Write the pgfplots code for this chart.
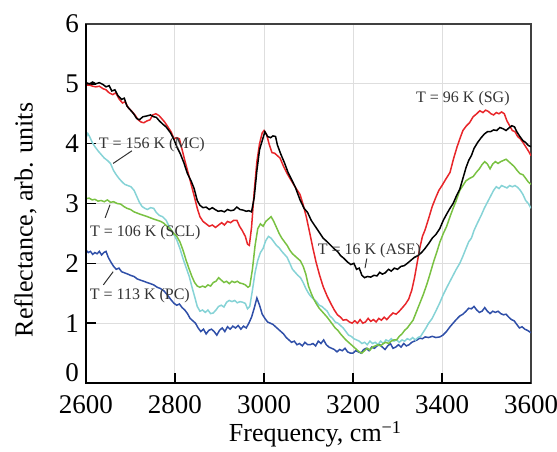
\documentclass[border=0pt]{standalone}
\usepackage{fontspec}
\setmainfont{Liberation Serif}
\usepackage{pgfplots}
\pgfplotsset{compat=1.18}
\definecolor{cRed}{HTML}{E8262A}
\definecolor{cCyan}{HTML}{86D3D6}
\definecolor{cGreen}{HTML}{79C142}
\definecolor{cBlue}{HTML}{2F4FA8}

\begin{document}
\begin{tikzpicture}
\begin{axis}[scale only axis,width=222.5pt,height=179.5pt,
xmin=2600,xmax=3600,ymin=0,ymax=6,
xtick={2600,2800,...,3600},ytick={0,1,...,6},
yticklabels={\raisebox{10pt}{0},1,2,3,4,5,6},
/pgf/number format/assume math mode=true,
/pgf/number format/1000 sep={},
tick label style={font=\fontsize{13.5}{13.5}\selectfont},
xticklabel style={yshift=-2.5pt},
label style={font=\fontsize{13}{14}\selectfont},
xlabel={Frequency, cm\textsuperscript{−1}},
ylabel={Reflectance, arb. units},
xlabel style={xshift=3.5pt},
xlabel shift=-3pt,
ylabel style={at={(ticklabel cs:0.454)}},
ylabel shift=7.5pt,
grid=major,major grid style={black!13,line width=0.5pt},
tick align=inside,xtick pos=bottom,ytick pos=left,major tick length=5pt,
tick style={black,line width=0.8pt},
axis line style={black!75,line width=0.8pt},
clip mode=individual,
every axis plot/.append style={line width=0.75pt}]

\addplot[cBlue] coordinates {(2600,2.22) (2605,2.18) (2610,2.20) (2615,2.15) (2620,2.18) (2625,2.16) (2630,2.20) (2635,2.14) (2640,2.18) (2645,2.20) (2650,2.10) (2656,2.02) (2662,1.95) (2668,1.90) (2674,1.92) (2680,1.86) (2687,1.84) (2694,1.82) (2700,1.80) (2708,1.78) (2715,1.74) (2722,1.72) (2730,1.70) (2737,1.68) (2745,1.66) (2752,1.64) (2760,1.60) (2767,1.58) (2775,1.54) (2782,1.48) (2790,1.40) (2798,1.33) (2804,1.30) (2810,1.32) (2816,1.26) (2822,1.22) (2828,1.16) (2834,1.08) (2840,1.04) (2846,1.00) (2852,0.92) (2858,0.86) (2864,0.90) (2870,0.82) (2876,0.88) (2882,0.90) (2888,0.86) (2894,0.80) (2900,0.88) (2906,0.92) (2912,0.86) (2918,0.94) (2924,0.90) (2930,0.95) (2936,0.92) (2942,0.96) (2948,0.90) (2954,0.95) (2960,0.92) (2966,1.00) (2972,1.10) (2978,1.25) (2984,1.42) (2990,1.30) (2996,1.15) (3002,1.08) (3008,1.02) (3014,1.00) (3020,0.98) (3026,0.94) (3032,0.90) (3038,0.86) (3044,0.82) (3050,0.76) (3056,0.72) (3062,0.68) (3068,0.70) (3074,0.64) (3080,0.66) (3086,0.62) (3092,0.68) (3098,0.64) (3104,0.64) (3110,0.66) (3116,0.62) (3122,0.70) (3128,0.66) (3134,0.72) (3140,0.64) (3146,0.60) (3152,0.58) (3158,0.56) (3164,0.52) (3170,0.56) (3176,0.54) (3182,0.58) (3188,0.52) (3194,0.50) (3200,0.50) (3206,0.54) (3212,0.52) (3218,0.50) (3224,0.56) (3230,0.58) (3236,0.54) (3242,0.60) (3248,0.58) (3254,0.62) (3260,0.64) (3266,0.60) (3272,0.56) (3278,0.62) (3284,0.66) (3290,0.58) (3296,0.60) (3302,0.64) (3308,0.60) (3314,0.66) (3320,0.62) (3326,0.64) (3332,0.68) (3338,0.70) (3344,0.72) (3350,0.75) (3356,0.74) (3362,0.77) (3370,0.76) (3378,0.78) (3386,0.76) (3395,0.77) (3402,0.80) (3410,0.86) (3418,0.94) (3425,1.00) (3432,1.06) (3440,1.12) (3447,1.15) (3454,1.20) (3460,1.25) (3466,1.24) (3472,1.28) (3478,1.22) (3484,1.18) (3490,1.20) (3496,1.26) (3502,1.20) (3508,1.16) (3514,1.20) (3520,1.18) (3526,1.20) (3532,1.16) (3538,1.14) (3544,1.15) (3550,1.10) (3556,1.06) (3562,1.04) (3568,0.98) (3574,0.92) (3580,0.94) (3586,0.90) (3592,0.88) (3600,0.84)};

\addplot[cCyan] coordinates {(2600,4.10) (2604,4.17) (2608,4.12) (2614,4.02) (2620,3.95) (2627,3.88) (2634,3.82) (2641,3.76) (2648,3.72) (2655,3.67) (2662,3.55) (2668,3.48) (2674,3.42) (2680,3.37) (2687,3.32) (2694,3.30) (2701,3.28) (2708,3.22) (2714,3.12) (2720,3.02) (2726,2.95) (2732,2.92) (2738,2.90) (2745,2.93) (2752,2.92) (2758,2.85) (2765,2.80) (2772,2.78) (2780,2.72) (2788,2.60) (2796,2.50) (2804,2.39) (2811,2.25) (2818,2.08) (2825,1.93) (2832,1.78) (2839,1.58) (2845,1.42) (2850,1.28) (2856,1.20) (2862,1.22) (2868,1.18) (2874,1.22) (2880,1.16) (2886,1.17) (2892,1.22) (2898,1.28) (2904,1.30) (2910,1.27) (2916,1.35) (2922,1.38) (2928,1.36) (2934,1.38) (2940,1.34) (2946,1.36) (2952,1.35) (2958,1.33) (2963,1.24) (2968,1.28) (2974,1.55) (2980,1.85) (2986,2.05) (2992,2.18) (2998,2.25) (3004,2.38) (3010,2.45) (3016,2.42) (3022,2.36) (3028,2.30) (3034,2.26) (3040,2.20) (3046,2.15) (3052,2.10) (3058,2.00) (3064,1.90) (3070,1.85) (3076,1.80) (3082,1.76) (3088,1.68) (3094,1.58) (3100,1.50) (3106,1.44) (3112,1.40) (3118,1.36) (3124,1.30) (3130,1.28) (3136,1.24) (3142,1.20) (3148,1.12) (3154,1.08) (3160,1.02) (3166,1.00) (3172,0.96) (3178,0.92) (3184,0.86) (3190,0.80) (3196,0.78) (3202,0.74) (3208,0.72) (3214,0.70) (3220,0.66) (3226,0.68) (3232,0.64) (3238,0.70) (3244,0.66) (3250,0.68) (3256,0.64) (3262,0.70) (3268,0.66) (3274,0.72) (3280,0.70) (3286,0.74) (3292,0.70) (3298,0.72) (3304,0.68) (3310,0.72) (3316,0.70) (3322,0.74) (3328,0.72) (3334,0.76) (3340,0.72) (3346,0.76) (3352,0.78) (3358,0.85) (3364,0.92) (3370,1.00) (3378,1.08) (3386,1.20) (3395,1.34) (3403,1.48) (3411,1.60) (3418,1.70) (3425,1.80) (3432,1.90) (3440,2.00) (3447,2.12) (3454,2.25) (3460,2.36) (3466,2.42) (3472,2.55) (3480,2.68) (3488,2.80) (3495,2.92) (3502,3.02) (3509,3.12) (3516,3.22) (3522,3.28) (3528,3.25) (3534,3.30) (3540,3.28) (3546,3.26) (3552,3.30) (3558,3.28) (3564,3.30) (3570,3.27) (3576,3.22) (3582,3.15) (3588,3.05) (3594,3.00) (3600,2.92)};

\addplot[cGreen] coordinates {(2600,3.08) (2607,3.09) (2614,3.06) (2620,3.07) (2627,3.04) (2634,3.05) (2641,3.03) (2648,3.06) (2655,3.02) (2662,3.03) (2670,3.00) (2678,2.99) (2685,2.95) (2692,2.92) (2700,2.90) (2708,2.86) (2715,2.84) (2722,2.82) (2730,2.80) (2738,2.78) (2745,2.76) (2752,2.74) (2760,2.72) (2768,2.70) (2775,2.67) (2782,2.62) (2790,2.57) (2797,2.50) (2804,2.45) (2811,2.36) (2818,2.22) (2825,2.05) (2832,1.90) (2838,1.78) (2844,1.68) (2850,1.62) (2856,1.60) (2862,1.62) (2868,1.60) (2874,1.64) (2880,1.62) (2886,1.68) (2892,1.70) (2898,1.76) (2904,1.72) (2910,1.68) (2916,1.70) (2922,1.66) (2928,1.70) (2934,1.68) (2940,1.70) (2946,1.67) (2952,1.66) (2958,1.64) (2964,1.60) (2968,1.62) (2974,1.90) (2980,2.30) (2986,2.58) (2992,2.66) (2998,2.62) (3004,2.70) (3010,2.74) (3016,2.78) (3022,2.70) (3028,2.60) (3034,2.50) (3040,2.42) (3046,2.36) (3052,2.30) (3058,2.22) (3064,2.16) (3070,2.12) (3076,2.08) (3082,2.04) (3088,1.95) (3094,1.82) (3100,1.62) (3106,1.50) (3112,1.40) (3118,1.32) (3124,1.25) (3130,1.20) (3136,1.15) (3142,1.10) (3148,1.04) (3154,0.98) (3160,0.92) (3166,0.88) (3172,0.82) (3178,0.77) (3184,0.72) (3190,0.68) (3196,0.64) (3202,0.60) (3208,0.56) (3214,0.52) (3220,0.50) (3226,0.54) (3232,0.58) (3238,0.55) (3244,0.60) (3250,0.62) (3256,0.64) (3262,0.62) (3268,0.66) (3274,0.68) (3280,0.66) (3286,0.70) (3292,0.72) (3298,0.72) (3304,0.78) (3310,0.82) (3316,0.88) (3322,0.92) (3328,0.98) (3335,1.05) (3342,1.18) (3350,1.33) (3358,1.48) (3366,1.65) (3373,1.82) (3380,2.00) (3388,2.18) (3395,2.35) (3403,2.50) (3410,2.61) (3418,2.78) (3425,2.92) (3432,3.05) (3440,3.22) (3447,3.30) (3454,3.38) (3462,3.42) (3470,3.45) (3477,3.52) (3484,3.58) (3490,3.65) (3496,3.70) (3502,3.66) (3508,3.58) (3514,3.66) (3520,3.70) (3526,3.67) (3532,3.70) (3538,3.72) (3544,3.74) (3550,3.70) (3556,3.66) (3562,3.62) (3568,3.56) (3575,3.50) (3582,3.48) (3588,3.42) (3594,3.36) (3600,3.32)};

\addplot[cRed] coordinates {(2600,4.98) (2608,4.98) (2615,4.96) (2622,4.95) (2630,4.96) (2638,4.92) (2645,4.90) (2652,4.85) (2660,4.82) (2667,4.85) (2674,4.75) (2682,4.68) (2688,4.70) (2695,4.60) (2702,4.55) (2710,4.48) (2717,4.40) (2724,4.36) (2730,4.35) (2737,4.38) (2744,4.40) (2750,4.48) (2757,4.50) (2764,4.47) (2770,4.42) (2777,4.36) (2784,4.28) (2791,4.20) (2798,4.08) (2804,4.10) (2810,4.08) (2816,3.90) (2822,3.72) (2830,3.50) (2837,3.30) (2844,3.10) (2850,2.92) (2856,2.78) (2863,2.70) (2870,2.66) (2877,2.62) (2884,2.64) (2891,2.60) (2898,2.64) (2905,2.68) (2911,2.64) (2918,2.70) (2925,2.68) (2932,2.72) (2939,2.72) (2945,2.62) (2951,2.55) (2958,2.45) (2963,2.32) (2967,2.30) (2972,2.60) (2978,3.20) (2984,3.70) (2990,4.00) (2996,4.18) (3000,4.22) (3006,4.15) (3012,3.98) (3018,3.85) (3024,3.84) (3030,3.80) (3036,3.76) (3044,3.62) (3052,3.50) (3060,3.40) (3068,3.30) (3075,3.22) (3081,3.15) (3088,2.98) (3095,2.78) (3103,2.50) (3110,2.25) (3117,2.02) (3125,1.80) (3133,1.61) (3142,1.45) (3150,1.33) (3158,1.22) (3165,1.14) (3172,1.10) (3178,1.05) (3185,1.06) (3192,1.02) (3198,1.00) (3204,1.04) (3210,1.00) (3216,1.06) (3222,1.00) (3228,1.02) (3234,1.08) (3240,1.03) (3246,1.06) (3252,1.02) (3258,1.08) (3264,1.05) (3270,1.10) (3276,1.06) (3283,1.12) (3290,1.17) (3297,1.15) (3304,1.20) (3310,1.25) (3318,1.32) (3325,1.40) (3332,1.55) (3338,1.75) (3344,2.00) (3350,2.25) (3356,2.45) (3362,2.56) (3370,2.75) (3378,2.95) (3386,3.10) (3393,3.22) (3400,3.30) (3408,3.40) (3418,3.52) (3426,3.75) (3434,3.95) (3441,4.10) (3447,4.22) (3455,4.30) (3462,4.35) (3470,4.45) (3478,4.50) (3485,4.55) (3492,4.52) (3498,4.56) (3504,4.54) (3510,4.50) (3516,4.48) (3522,4.52) (3528,4.50) (3534,4.53) (3540,4.50) (3546,4.38) (3552,4.30) (3558,4.22) (3564,4.20) (3570,4.12) (3576,4.08) (3582,4.02) (3588,3.95) (3594,3.88) (3600,3.80)};

\addplot[black] coordinates {(2600,5.02) (2608,5.00) (2615,5.03) (2622,5.00) (2630,5.02) (2638,4.99) (2645,4.95) (2652,4.97) (2658,4.88) (2665,4.90) (2672,4.80) (2680,4.74) (2686,4.76) (2692,4.63) (2700,4.56) (2707,4.50) (2714,4.42) (2720,4.40) (2728,4.45) (2735,4.46) (2745,4.48) (2752,4.45) (2758,4.44) (2765,4.38) (2772,4.33) (2780,4.28) (2790,4.18) (2797,4.08) (2804,3.95) (2812,3.83) (2820,3.68) (2828,3.50) (2836,3.38) (2843,3.25) (2850,3.05) (2856,2.97) (2863,2.93) (2870,2.94) (2877,2.90) (2884,2.93) (2890,2.90) (2897,2.87) (2904,2.88) (2911,2.86) (2918,2.90) (2925,2.88) (2932,2.89) (2939,2.94) (2946,2.90) (2953,2.89) (2960,2.87) (2966,2.88) (2972,2.86) (2978,3.10) (2984,3.55) (2990,3.90) (2996,4.05) (3002,4.20) (3008,4.12) (3015,4.10) (3020,4.13) (3026,4.12) (3030,3.98) (3038,3.82) (3046,3.68) (3054,3.52) (3062,3.40) (3070,3.28) (3081,3.06) (3090,2.92) (3098,2.85) (3106,2.72) (3115,2.62) (3124,2.52) (3133,2.42) (3142,2.36) (3150,2.30) (3158,2.24) (3165,2.20) (3172,2.13) (3180,2.08) (3188,2.02) (3195,1.98) (3202,2.00) (3208,1.90) (3214,1.92) (3220,1.80) (3226,1.76) (3232,1.78) (3240,1.77) (3247,1.80) (3254,1.79) (3260,1.85) (3266,1.82) (3272,1.84) (3280,1.90) (3286,1.87) (3293,1.92) (3300,1.90) (3308,1.95) (3315,1.96) (3322,2.00) (3330,2.05) (3338,2.10) (3346,2.13) (3354,2.18) (3362,2.25) (3370,2.33) (3378,2.42) (3386,2.48) (3395,2.58) (3403,2.72) (3411,2.83) (3418,2.92) (3425,3.00) (3432,3.12) (3440,3.24) (3447,3.42) (3454,3.60) (3460,3.72) (3466,3.80) (3472,3.92) (3480,4.02) (3488,4.10) (3495,4.16) (3502,4.20) (3509,4.20) (3516,4.23) (3523,4.22) (3530,4.27) (3537,4.25) (3544,4.22) (3550,4.26) (3557,4.30) (3563,4.28) (3568,4.20) (3575,4.12) (3582,4.05) (3588,4.02) (3594,3.97) (3600,3.95)};

\draw[black,line width=1.2pt] (rel axis cs:0,1) -- (rel axis cs:0,0) -- (rel axis cs:1,0);

\begin{scope}[every node/.style={font=\fontsize{8}{8}\selectfont,text=black!80,inner sep=0pt}]
\node at (axis cs:2748,3.99) {T = 156 K (MC)};
\node at (axis cs:2733,2.52) {T = 106 K (SCL)};
\node at (axis cs:2721,1.46) {T = 113 K (PC)};
\node at (axis cs:3237,2.22) {T = 16 K (ASE)};
\node at (axis cs:3447,4.76) {T = 96 K (SG)};
\end{scope}
\draw[black!80,line width=0.5pt] (axis cs:2703,3.88) -- (axis cs:2661,3.67);
\draw[black!80,line width=0.5pt] (axis cs:2643,2.76) -- (axis cs:2654,2.98);
\draw[black!80,line width=0.5pt] (axis cs:2639,1.64) -- (axis cs:2661,1.86);
\draw[black!80,line width=0.5pt] (axis cs:3231,2.08) -- (axis cs:3227,1.92);
\end{axis}
\pgfresetboundingbox
\path (-43pt,-34pt) rectangle (235.5pt,191.5pt);
\end{tikzpicture}
\end{document}
